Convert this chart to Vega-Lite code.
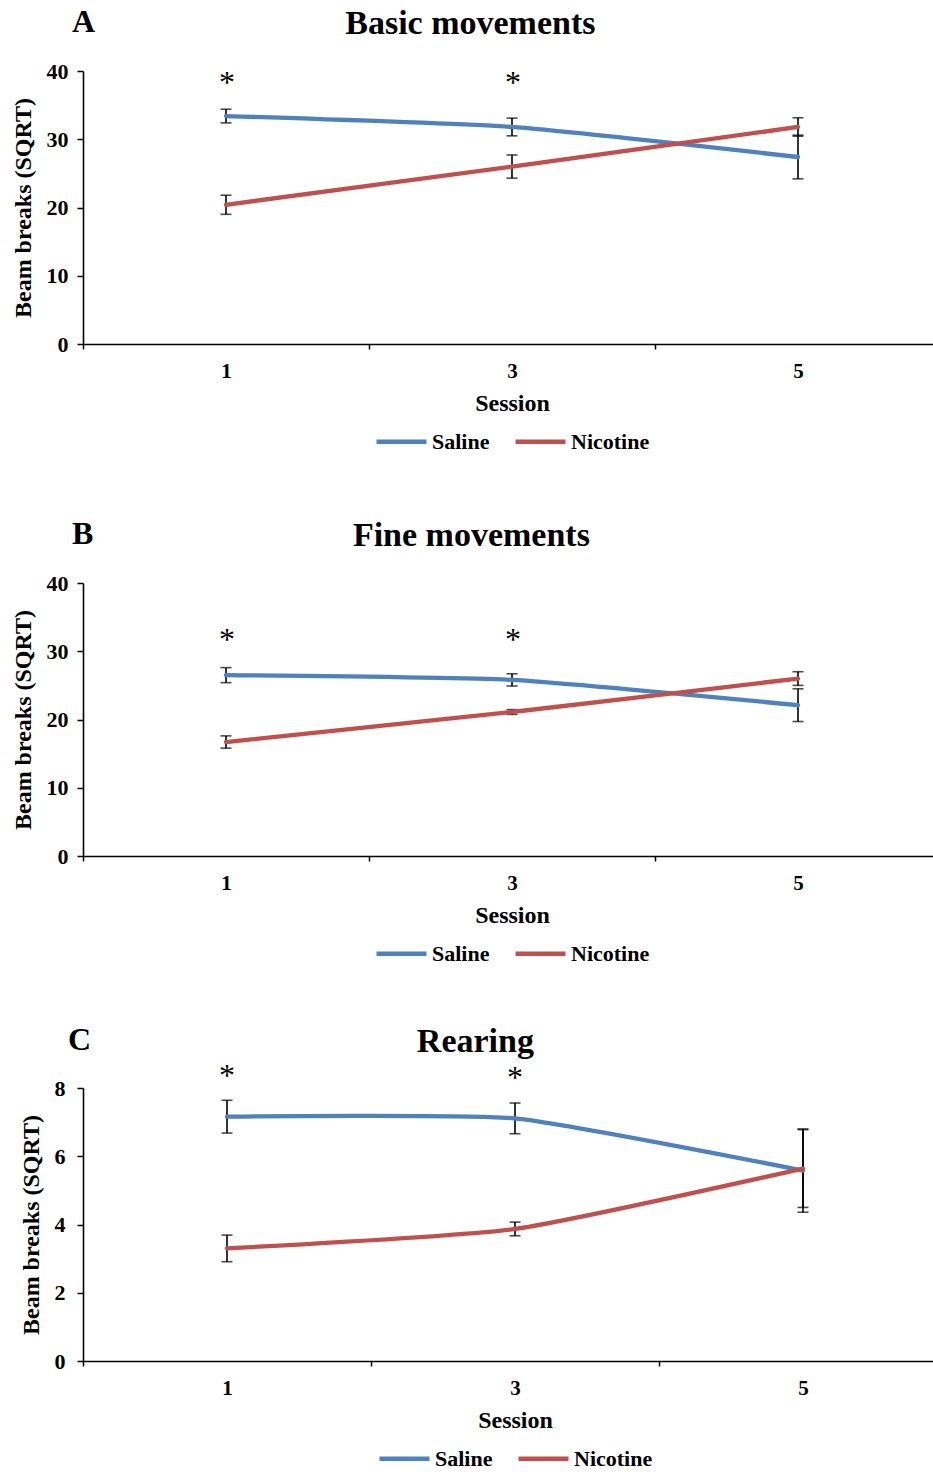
{
  "$schema": "https://vega.github.io/schema/vega-lite/v6.json",
  "background": "white",
  "padding": {"left": 11, "top": 6, "right": 0, "bottom": 0},
  "datasets": {
    "basic": [
      {"session": "1", "group": "Saline", "mean": 33.4, "sem": 1.0},
      {"session": "3", "group": "Saline", "mean": 31.8, "sem": 1.3},
      {"session": "5", "group": "Saline", "mean": 27.4, "sem": 3.2},
      {"session": "1", "group": "Nicotine", "mean": 20.4, "sem": 1.4},
      {"session": "3", "group": "Nicotine", "mean": 26.0, "sem": 1.7},
      {"session": "5", "group": "Nicotine", "mean": 31.8, "sem": 1.35}
    ],
    "fine": [
      {"session": "1", "group": "Saline", "mean": 26.5, "sem": 1.1},
      {"session": "3", "group": "Saline", "mean": 25.8, "sem": 0.9},
      {"session": "5", "group": "Saline", "mean": 22.1, "sem": 2.4},
      {"session": "1", "group": "Nicotine", "mean": 16.7, "sem": 0.9},
      {"session": "3", "group": "Nicotine", "mean": 21.1, "sem": 0.35},
      {"session": "5", "group": "Nicotine", "mean": 26.0, "sem": 1.0}
    ],
    "rearing": [
      {"session": "1", "group": "Saline", "mean": 7.16, "sem": 0.48},
      {"session": "3", "group": "Saline", "mean": 7.11, "sem": 0.45},
      {"session": "5", "group": "Saline", "mean": 5.58, "sem": 1.22},
      {"session": "1", "group": "Nicotine", "mean": 3.3, "sem": 0.39},
      {"session": "3", "group": "Nicotine", "mean": 3.87, "sem": 0.2},
      {"session": "5", "group": "Nicotine", "mean": 5.64, "sem": 1.14}
    ],
    "basicStars": [
      {"session": "1", "mean": 38.25},
      {"session": "3", "mean": 38.25}
    ],
    "fineStars": [
      {"session": "1", "mean": 31.7},
      {"session": "3", "mean": 31.6}
    ],
    "rearingStars": [
      {"session": "1", "mean": 8.35},
      {"session": "3", "mean": 8.28}
    ]
  },
  "resolve": {"scale": {"color": "independent", "x": "independent", "y": "independent"}, "legend": {"color": "independent"}},
  "columns": 1,
  "align": "none",
  "spacing": 65,
  "concat": [
    {
      "title": {"text": "A", "anchor": "start", "frame": "bounds", "dx": 61, "offset": -32, "fontSize": 32},
      "resolve": {"scale": {"color": "independent"}, "legend": {"color": "independent"}},
      "vconcat": [
        {
          "title": {"text": "Basic movements", "anchor": "middle", "frame": "bounds", "offset": 19, "dx": -6},
          "width": 858,
          "height": 273,
          "encoding": {
            "x": {"field": "session", "type": "ordinal", "bandPosition": 0.5, "scale": {"type": "band", "domain": ["1", "3", "5"], "paddingInner": 0, "paddingOuter": 0}, "title": "Session"},
            "y": {"field": "mean", "type": "quantitative", "scale": {"domain": [0, 40], "nice": false}, "axis": {"values": [0, 5, 10, 15, 20, 25, 30, 35, 40], "tickCount": 8, "labelOverlap": false, "labelBound": false}, "title": "Beam breaks (SQRT)"}
          },
          "layer": [
            {
              "data": {"name": "basicStars"},
              "mark": {"type": "text", "text": "*", "fontSize": 32, "baseline": "middle", "dx": 1, "color": "black"}
            },
            {
              "data": {"name": "basic"},
              "mark": {"type": "errorbar", "ticks": true, "size": 11, "thickness": 1.6, "rule": {"color": "black"}, "ticks": {"color": "black"}},
              "encoding": {"yError": {"field": "sem"}}
            },
            {
              "data": {"name": "basic"},
              "mark": {"type": "line", "strokeWidth": 4.3, "interpolate": "cardinal", "tension": 0.5, "strokeCap": "round"},
              "encoding": {
                "color": {"field": "group", "type": "nominal", "scale": {"domain": ["Saline", "Nicotine"], "range": ["#4F81BD", "#C0504D"]}, "legend": {"title": null}},
                "order": {"field": "group", "sort": "descending"}
              }
            }
          ]
        }
      ]
    },
    {
      "columns": 1,
      "align": "none",
      "spacing": 59,
      "resolve": {"scale": {"color": "independent", "x": "independent", "y": "independent"}, "legend": {"color": "independent"}},
      "concat": [
        {
          "title": {"text": "B", "anchor": "start", "frame": "bounds", "dx": 61, "offset": -32, "fontSize": 32},
          "resolve": {"scale": {"color": "independent"}, "legend": {"color": "independent"}},
          "vconcat": [
            {
              "title": {"text": "Fine movements", "anchor": "middle", "frame": "bounds", "offset": 19, "dx": -5},
              "width": 858,
              "height": 273,
              "encoding": {
                "x": {"field": "session", "type": "ordinal", "bandPosition": 0.5, "scale": {"type": "band", "domain": ["1", "3", "5"], "paddingInner": 0, "paddingOuter": 0}, "title": "Session"},
                "y": {"field": "mean", "type": "quantitative", "scale": {"domain": [0, 40], "nice": false}, "axis": {"values": [0, 5, 10, 15, 20, 25, 30, 35, 40], "tickCount": 8, "labelOverlap": false, "labelBound": false}, "title": "Beam breaks (SQRT)"}
              },
              "layer": [
                {
                  "data": {"name": "fineStars"},
                  "mark": {"type": "text", "text": "*", "fontSize": 32, "baseline": "middle", "dx": 1, "color": "black"}
                },
                {
                  "data": {"name": "fine"},
                  "mark": {"type": "errorbar", "ticks": true, "size": 11, "thickness": 1.6, "rule": {"color": "black"}, "ticks": {"color": "black"}},
                  "encoding": {"yError": {"field": "sem"}}
                },
                {
                  "data": {"name": "fine"},
                  "mark": {"type": "line", "strokeWidth": 4.3, "interpolate": "cardinal", "tension": 0.5, "strokeCap": "round"},
                  "encoding": {
                    "color": {"field": "group", "type": "nominal", "scale": {"domain": ["Saline", "Nicotine"], "range": ["#4F81BD", "#C0504D"]}, "legend": {"title": null}},
                    "order": {"field": "group", "sort": "descending"}
                  }
                }
              ]
            }
          ]
        },
        {
          "title": {"text": "C", "anchor": "start", "frame": "bounds", "dx": 49, "offset": -32, "fontSize": 32},
          "resolve": {"scale": {"color": "independent"}, "legend": {"color": "independent"}},
          "vconcat": [
            {
              "title": {"text": "Rearing", "anchor": "middle", "frame": "bounds", "offset": 1, "dx": -8},
              "width": 864,
              "height": 273,
              "encoding": {
                "x": {"field": "session", "type": "ordinal", "bandPosition": 0.5, "scale": {"type": "band", "domain": ["1", "3", "5"], "paddingInner": 0, "paddingOuter": 0}, "title": "Session"},
                "y": {"field": "mean", "type": "quantitative", "scale": {"domain": [0, 8], "nice": false}, "axis": {"values": [0, 1, 2, 3, 4, 5, 6, 7, 8], "tickCount": 8, "labelOverlap": false, "labelBound": false, "labelPadding": 12}, "title": "Beam breaks (SQRT)"}
              },
              "layer": [
                {
                  "data": {"name": "rearingStars"},
                  "mark": {"type": "text", "text": "*", "fontSize": 32, "baseline": "middle", "dx": 0, "color": "black"}
                },
                {
                  "data": {"name": "rearing"},
                  "mark": {"type": "errorbar", "ticks": true, "size": 11, "thickness": 1.6, "rule": {"color": "black"}, "ticks": {"color": "black"}},
                  "encoding": {"yError": {"field": "sem"}}
                },
                {
                  "data": {"name": "rearing"},
                  "mark": {"type": "line", "strokeWidth": 4.3, "interpolate": "cardinal", "tension": 0.5, "strokeCap": "round"},
                  "encoding": {
                    "color": {"field": "group", "type": "nominal", "scale": {"domain": ["Saline", "Nicotine"], "range": ["#4F81BD", "#C0504D"]}, "legend": {"title": null}},
                    "order": {"field": "group", "sort": "descending"}
                  }
                }
              ]
            }
          ]
        }
      ]
    }
  ],
  "config": {
    "font": "Liberation Serif",
    "view": {"stroke": null},
    "title": {"font": "Liberation Serif", "fontSize": 34, "fontWeight": "bold", "color": "black"},
    "axis": {
      "grid": false,
      "labelOverlap": false,
      "labelFont": "Liberation Serif",
      "labelFontSize": 22,
      "labelFontWeight": "bold",
      "labelColor": "black",
      "titleFont": "Liberation Serif",
      "titleFontSize": 24,
      "titleFontWeight": "bold",
      "titleColor": "black",
      "domainColor": "black",
      "domainWidth": 1.6,
      "tickColor": "black",
      "tickWidth": 1.5,
      "tickSize": 6
    },
    "axisX": {"tickBand": "extent", "labelAngle": 0, "labelPadding": 11, "titlePadding": 10, "tickSize": 5, "labelFontSize": 21},
    "axisY": {"labelPadding": 9, "titlePadding": 11, "labelOverlap": false},
    "legend": {
      "orient": "bottom",
      "direction": "horizontal",
      "layout": {"bottom": {"anchor": "middle"}},
      "labelFont": "Liberation Serif",
      "labelFontSize": 22,
      "labelFontWeight": "bold",
      "labelColor": "black",
      "symbolType": "stroke",
      "symbolSize": 2500,
      "symbolStrokeWidth": 4.3,
      "labelOffset": 3,
      "columnPadding": 16,
      "offset": -1
    }
  }
}
